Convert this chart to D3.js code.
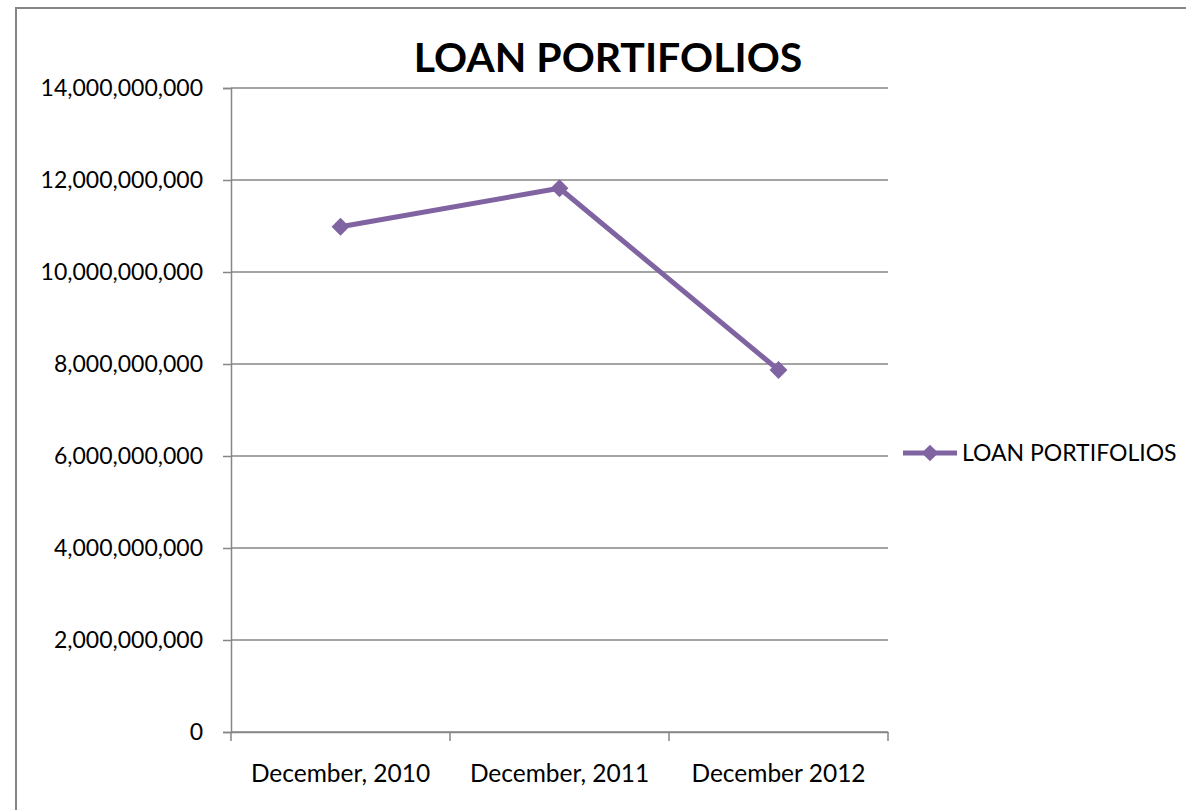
<!DOCTYPE html>
<html>
<head>
<meta charset="utf-8">
<script src="https://cdn.jsdelivr.net/npm/d3@7/dist/d3.min.js"></script>
<style>
body { margin: 0; background: #fff; }
text { font-family: Lato, "Open Sans", sans-serif; }
</style>
</head>
<body>
<svg id="output" width="1186" height="810"></svg>
<script>
var categories = ["December, 2010", "December, 2011", "December 2012"];
var loanValues = [10985000000, 11820000000, 7870000000];
var yTicks = [0, 2e9, 4e9, 6e9, 8e9, 10e9, 12e9, 14e9];
var seriesName = "LOAN PORTIFOLIOS";
var chartTitle = "LOAN PORTIFOLIOS";

var svg = d3.select('#output');
var purple = "#8064A2", grid = "#868686";

// chart frame
svg.append('rect').attr('x', 16).attr('y', 8).attr('width', 1200).attr('height', 900)
    .attr('fill', 'none').attr('stroke', grid).attr('stroke-width', 2);

var plotLeft = 231, plotRight = 888, plotTop = 88, plotBottom = 732;
var x = d3.scaleBand().domain(categories).range([plotLeft, plotRight]);
var y = d3.scaleLinear().domain([0, 14e9]).range([plotBottom, plotTop]);

// gridlines
svg.append('g').selectAll('line').data(yTicks).enter().append('line')
    .attr('x1', plotLeft).attr('x2', plotRight)
    .attr('y1', function (d) { return y(d); }).attr('y2', function (d) { return y(d); })
    .attr('stroke', grid).attr('stroke-width', 1.5);

var yAxis = svg.append('g').attr('transform', 'translate(' + plotLeft + ',0)')
    .call(d3.axisLeft(y).tickValues(yTicks).tickSize(8).tickPadding(20).tickFormat(d3.format(',')));
var xAxis = svg.append('g').attr('transform', 'translate(0,' + plotBottom + ')')
    .call(d3.axisBottom(x).tickSize(0).tickPadding(33));
// category boundary ticks
var bounds = [plotLeft].concat(categories.map(function (c) { return x(c) + x.bandwidth(); }));
xAxis.selectAll('.bound').data(bounds).enter().append('line').attr('class', 'bound')
    .attr('x1', function (d) { return d; }).attr('x2', function (d) { return d; })
    .attr('y1', 0).attr('y2', 9).attr('stroke', grid).attr('stroke-width', 1.5);

[yAxis, xAxis].forEach(function (a) {
    a.selectAll('.domain').attr('stroke', grid).attr('stroke-width', 1.5);
    a.selectAll('.tick line').attr('stroke', grid).attr('stroke-width', 1.5);
    a.selectAll('text').attr('fill', '#000')
        .style('font-family', 'Lato, "Open Sans", sans-serif');
});
yAxis.selectAll('text').attr('font-size', 23);
xAxis.selectAll('text').attr('font-size', 24.5);

var line = d3.line()
    .x(function (d, i) { return x(categories[i]) + x.bandwidth() / 2; })
    .y(function (d) { return y(d); });
svg.append('path').datum(loanValues).attr('d', line)
    .attr('fill', 'none').attr('stroke', purple).attr('stroke-width', 5);

var diamond = d3.symbol().type(d3.symbolSquare).size(160);
svg.append('g').selectAll('path').data(loanValues).enter().append('path')
    .attr('d', diamond)
    .attr('transform', function (d, i) {
        return 'translate(' + (x(categories[i]) + x.bandwidth() / 2) + ',' + y(d) + ') rotate(45)';
    })
    .attr('fill', purple);

svg.append('text').attr('x', 608).attr('y', 72).attr('text-anchor', 'middle')
    .attr('font-size', 41).attr('font-weight', 'bold').text(chartTitle);

// legend
var lg = svg.append('g').attr('transform', 'translate(0,453)');
lg.append('line').attr('x1', 903).attr('x2', 957).attr('y1', 0).attr('y2', 0)
    .attr('stroke', purple).attr('stroke-width', 5);
lg.append('path').attr('d', d3.symbol().type(d3.symbolSquare).size(140))
    .attr('transform', 'translate(930,0) rotate(45)').attr('fill', purple);
lg.append('text').attr('x', 962).attr('y', 8).attr('font-size', 23).text(seriesName);
</script>
</body>
</html>
